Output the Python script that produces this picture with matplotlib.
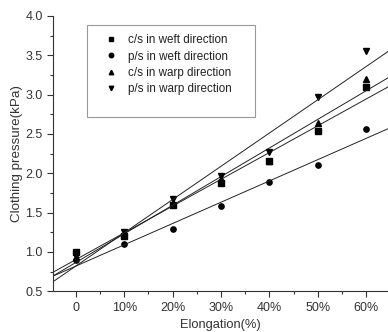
import numpy as np
import matplotlib.pyplot as plt
from matplotlib.ticker import MultipleLocator
from matplotlib.patches import Rectangle

plt.rcParams['font.family'] = ['Liberation Sans', 'DejaVu Sans']

# elongation (%)
elong = [0, 10, 20, 30, 40, 50, 60]
# clothing pressure (kPa)
cs_weft = [1.00, 1.20, 1.60, 1.87, 2.15, 2.54, 3.10]
ps_weft = [0.90, 1.10, 1.29, 1.58, 1.89, 2.10, 2.56]
cs_warp = [0.93, 1.22, 1.62, 1.93, 2.16, 2.64, 3.20]
ps_warp = [0.95, 1.25, 1.67, 1.96, 2.27, 2.97, 3.55]

series = [
    ('c/s in weft direction', cs_weft, 's'),
    ('p/s in weft direction', ps_weft, 'o'),
    ('c/s in warp direction', cs_warp, '^'),
    ('p/s in warp direction', ps_warp, 'v'),
]

fig = plt.figure(figsize=(3.88, 3.32), dpi=100)
ax = fig.add_axes([0.137, 0.123, 0.863, 0.829])

xfit = np.array([-5, 66])
for lab, ys, mk in series:
    ax.plot(elong, ys, mk, color='black', markersize=3.8, label=lab, linestyle='none')
    k, b = np.polyfit(elong, ys, 1)
    ax.plot(xfit, k * xfit + b, color='#222222', linewidth=0.7)

ax.set_xlim(-4.7, 64.5)
ax.set_ylim(0.5, 4.0)
ax.xaxis.set_minor_locator(MultipleLocator(5))
ax.yaxis.set_minor_locator(MultipleLocator(0.25))
ax.set_xticks(elong)
ax.set_xticklabels(['0'] + [f'{v}%' for v in elong[1:]])
yt = np.arange(0.5, 4.01, 0.5)
ax.set_yticks(yt)
ax.set_yticklabels([f'{v:.1f}' for v in yt])

for s in ['top', 'right']:
    ax.spines[s].set_visible(False)
for s in ['left', 'bottom']:
    ax.spines[s].set_color('#333333')
    ax.spines[s].set_linewidth(0.8)
ax.tick_params(which='major', length=4, width=0.8, color='#333333', labelsize=9, labelcolor='#333333')
ax.tick_params(which='minor', length=2, width=0.8, color='#333333')

ax.set_xlabel('Elongation(%)', fontsize=9.3, color='#333333', labelpad=4)
ax.set_ylabel('Clothing pressure(kPa)', fontsize=9.6, color='#333333', labelpad=2)

# legend box (drawn separately, it has extra room at the bottom)
ax.add_patch(Rectangle((0.101, 0.633), 0.502, 0.334, transform=ax.transAxes,
                       fill=False, edgecolor='#999999', linewidth=0.8, zorder=5))
leg = ax.legend(loc='upper left', bbox_to_anchor=(0.142, 0.934), fontsize=8.4,
                frameon=False, handletextpad=0.5, handlelength=1.8, markerscale=0.85,
                borderpad=0, labelspacing=0.38, borderaxespad=0)
for t in leg.get_texts():
    t.set_color('#222222')

fig.savefig('out.png', dpi=100)
